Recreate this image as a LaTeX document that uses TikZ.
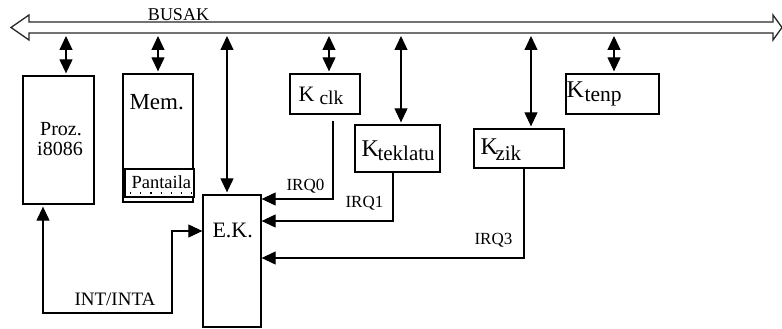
\documentclass[tikz,border=0pt]{standalone}
\usepackage{fontspec}
\setmainfont{Liberation Serif}
\usetikzlibrary{arrows.meta,calc}
\newcommand{\fs}[1]{\fontsize{#1}{#1}\selectfont}
\begin{document}
\begin{tikzpicture}[x=1pt,y=-1pt,line width=1.1pt,
  box/.style={draw,line width=1.3pt,inner sep=0pt},
  txt/.style={inner sep=0pt,anchor=base west},
  tipe/.style={-{Triangle[length=14pt,width=13pt]}},
  tipb/.style={{Triangle[length=14pt,width=13pt]}-{Triangle[length=14pt,width=13pt]}}]
\useasboundingbox (0,0) rectangle (782,329);
% bus
\draw[line width=1.3pt,black!85] (11,27.5) -- (29,15) -- (29,22) -- (773,22) -- (773,15) -- (782,27.5)
  -- (773,40) -- (773,33) -- (29,33) -- (29,40) -- cycle;
\node[txt,anchor=base,font=\fs{18}] (busak) at (178.5,20.5) {BUSAK};
% boxes
\node[box,minimum width=71pt,minimum height=128pt] (proz) at (58.5,140) {};
\node[box,minimum width=70pt,minimum height=128pt] (mem) at (158,138) {};
\node[box,fill=white,minimum width=69pt,minimum height=28pt] (pant) at (159.5,183) {};
\node[box,minimum width=70pt,minimum height=40pt] (kclk) at (325,94) {};
\node[box,minimum width=85pt,minimum height=47pt] (ktek) at (397.5,148.5) {};
\node[box,minimum width=90pt,minimum height=39pt] (kzik) at (519,148.5) {};
\node[box,minimum width=93pt,minimum height=40pt] (ktenp) at (612.5,94) {};
\node[box,minimum width=58pt,minimum height=132pt] (ek) at (232,261) {};
% texts
\node[txt,anchor=base,font=\fs{20}] (t1) at (61,135) {Proz.};
\node[txt,anchor=base,font=\fs{20}] (t2) at (60,155) {i8086};
\node[txt,font=\fs{23}] (t3) at (129,109) {Mem.};
\node[txt,font=\fs{18.5}] (t4) at (131,188) {Pantaila};
\draw[line width=1.2pt,dash pattern=on 1.2pt off 9pt] (130,193) -- (194,193);
\node[txt,font=\fs{22}] (k1) at (298,102) {K};
\node[txt,font=\fs{19.5}] (s1) at (319,104) {clk};
\node[txt,font=\fs{24}] (k2) at (361,156) {K};
\node[txt,font=\fs{21}] (s2) at (377,160) {teklatu};
\node[txt,font=\fs{24}] (k3) at (480,154) {K};
\node[txt,font=\fs{21}] (s3) at (495,160) {zik};
\node[txt,font=\fs{24}] (k4) at (566,98) {K};
\node[txt,font=\fs{21.5}] (s4) at (584,102) {tenp};
\node[txt,font=\fs{22}] (t5) at (212,237) {E.K.};
\node[txt,font=\fs{17}] (l0) at (286,190) {IRQ0};
\node[txt,font=\fs{17}] (l1) at (345,207) {IRQ1};
\node[txt,font=\fs{17}] (l3) at (474,244) {IRQ3};
\node[txt,font=\fs{19}] (l4) at (74,305) {INT/INTA};
% bus connectors
\coordinate (b1) at (66,36);
\coordinate (b2) at (158,36);
\coordinate (b3) at (227,36);
\coordinate (b4) at (329,36);
\coordinate (b5) at (401,36);
\coordinate (b6) at (531,36);
\coordinate (b7) at (614,36);
\draw[tipb,shorten >=2pt] (b1) -- (b1 |- proz.north);
\draw[tipb,shorten >=2pt] (b2) -- (b2 |- mem.north);
\draw[tipb,shorten >=2pt] (b3) -- (b3 |- ek.north);
\draw[tipb,shorten >=2pt] (b4) -- (b4 |- kclk.north);
\draw[tipb,shorten >=2pt] (b5) -- (b5 |- ktek.north);
\draw[tipb,shorten >=2pt] (b6) -- (b6 |- kzik.north);
\draw[tipb,shorten >=2pt] (b7) -- (b7 |- ktenp.north);
% IRQ lines
\coordinate (y0) at (0,199);
\coordinate (y1) at (0,221);
\coordinate (y3) at (0,258);
\coordinate (yi) at (0,231);
\coordinate (ib) at (172,313);
\draw[tipe] ([xshift=8pt,yshift=-6pt]kclk.south) |- (ek.east |- y0);
\draw[tipe] ([xshift=-4.5pt]ktek.south) |- (ek.east |- y1);
\draw[tipe] ([xshift=5pt]kzik.south) |- (ek.east |- y3);
\draw[tipb,shorten <=2pt] ([xshift=-15.5pt]proz.south) |- (ib) |- (ek.west |- yi);
\end{tikzpicture}
\end{document}
